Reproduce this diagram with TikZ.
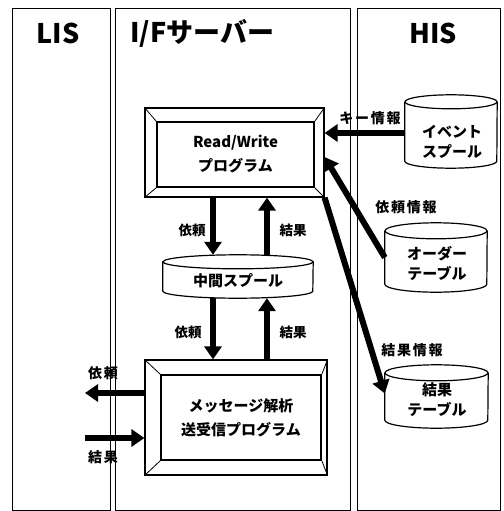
\documentclass[tikz,border=0pt]{standalone}
\usepackage{fontspec}
\newfontfamily\jp{Noto Sans CJK JP}
\usetikzlibrary{arrows.meta,calc}
\newcommand\cylpath[3]{%
  \draw[cylline] ($(#1.north west)+(0,-#3)$) -- ($(#1.south west)+(0,#3)$)
     arc[start angle=180,end angle=360,x radius=#2pt,y radius=#3pt]
     -- ($(#1.north east)+(0,-#3)$);
  \draw[cylline] ($(#1.north)+(0,-#3)$) ellipse[x radius=#2pt,y radius=#3pt];}
\begin{document}
\begin{tikzpicture}[x=1pt,y=1pt,font=\jp\bfseries,
  col/.style={draw,line width=1.2pt,inner sep=0,anchor=north west},
  title/.style={font=\jp\bfseries\fontsize{27}{30}\selectfont,inner sep=0},
  lbl/.style={font=\jp\bfseries\fontsize{13.5}{15}\selectfont,inner sep=0},
  wlbl/.style={font=\jp\bfseries\fontsize{14}{15}\selectfont\addfontfeature{LetterSpace=12},inner sep=0},
  boxtxt/.style={font=\jp\bfseries\fontsize{15}{24}\selectfont,align=center,inner sep=0},
  cyltxt/.style={font=\jp\bfseries\fontsize{15}{20}\selectfont,align=center,inner sep=0},
  outer/.style={draw,line width=1.2pt,inner sep=0},
  inner/.style={draw,line width=1.8pt,inner sep=0},
  bevel/.style={line width=0.8pt},
  cylbox/.style={inner sep=0},
  cylline/.style={line width=1.2pt},
  big/.style={line width=6pt,-{Triangle[length=13pt,width=17pt]}}]
\useasboundingbox (0,0) rectangle (503,-511);
% columns
\node[col,minimum width=98,minimum height=502] (lis) at (12,-8) {};
\node[col,minimum width=235,minimum height=502] (ifs) at (115,-8) {};
\node[col,minimum width=143,minimum height=502] (his) at (357,-8) {};
\node[title] (tlis) at (58,-33) {LIS};
\node[title,anchor=west] (tifs) at (130,-33) {I/Fサーバー};
\node[title] (this) at (433,-33) {HIS};
% Read/Write box
\node[outer,minimum width=179,minimum height=89] (rw) at (234.5,-152.5) {};
\node[inner,minimum width=157,minimum height=65,boxtxt] (rwi) at (235.5,-154.5) {Read/Write\\プログラム};
\foreach \a in {north west,north east,south west,south east}
  \draw[bevel] (rw.\a) -- (rwi.\a);
% message box
\node[outer,minimum width=182,minimum height=115] (msg) at (236,-417.5) {};
\node[inner,minimum width=160,minimum height=85,boxtxt] (msgi) at (241,-417.5) {メッセージ解析\\送受信プログラム};
\foreach \a in {north west,north east,south west,south east}
  \draw[bevel] (msg.\a) -- (msgi.\a);
% cylinders
\node[cylbox,minimum width=150,minimum height=43] (mid) at (238,-276.5) {};
\cylpath{mid}{75}{7}
\node[cyltxt] (midt) at (238,-281) {中間スプール};
\node[cylbox,minimum width=92,minimum height=73] (ev) at (451,-131.5) {};
\cylpath{ev}{46}{7}
\node[cyltxt] (evt) at (452,-142) {イベント\\スプール};
\node[cylbox,minimum width=102,minimum height=69] (ord) at (436,-257.5) {};
\cylpath{ord}{51}{8}
\node[cyltxt] (ordt) at (437,-263) {オーダー\\テーブル};
\node[cylbox,minimum width=103,minimum height=63] (res) at (436.5,-396.5) {};
\cylpath{res}{51.5}{8}
\node[cyltxt] (rest) at (437,-400) {結果\\テーブル};
% vertical arrows
\draw[big] ([xshift=-21.5pt]rw.south) -- ([xshift=-25pt]mid.north);
\draw[big] ([xshift=29pt]mid.north) -- ([xshift=32.5pt]rw.south);
\draw[big] ([xshift=-25pt]mid.south) -- ([xshift=-23pt]msg.north);
\draw[big] ([xshift=31pt]msg.north) -- ([xshift=29pt]mid.south);
\node[lbl] (l1) at (192,-230) {依頼};
\node[lbl] (l2) at (293,-230) {結果};
\node[lbl] (l3) at (188,-332) {依頼};
\node[lbl] (l4) at (293,-332) {結果};
% LIS arrows
\coordinate (lreq) at (85,-393);
\coordinate (lres) at (85,-438);
\draw[big] ([yshift=24.5pt]msg.west) -- (lreq);
\draw[big] (lres) -- ([yshift=-20.5pt]msg.west);
\node[wlbl] (l5) at (103,-373) {依頼};
\node[wlbl] (l6) at (103,-457) {結果};
% HIS arrows
\draw[big] ([yshift=-1.5pt]ev.west) -- ([yshift=19.5pt]rw.east);
\draw[big] (ord.west) -- ([yshift=-4.5pt]rw.east);
\draw[big] (rw.south east) -- ([yshift=3pt]res.west);
\node[wlbl] (l7) at (370,-118) {キー情報};
\node[wlbl] (l8) at (406,-207) {依頼情報};
\node[wlbl] (l9) at (412,-350) {結果情報};
\end{tikzpicture}
\end{document}
